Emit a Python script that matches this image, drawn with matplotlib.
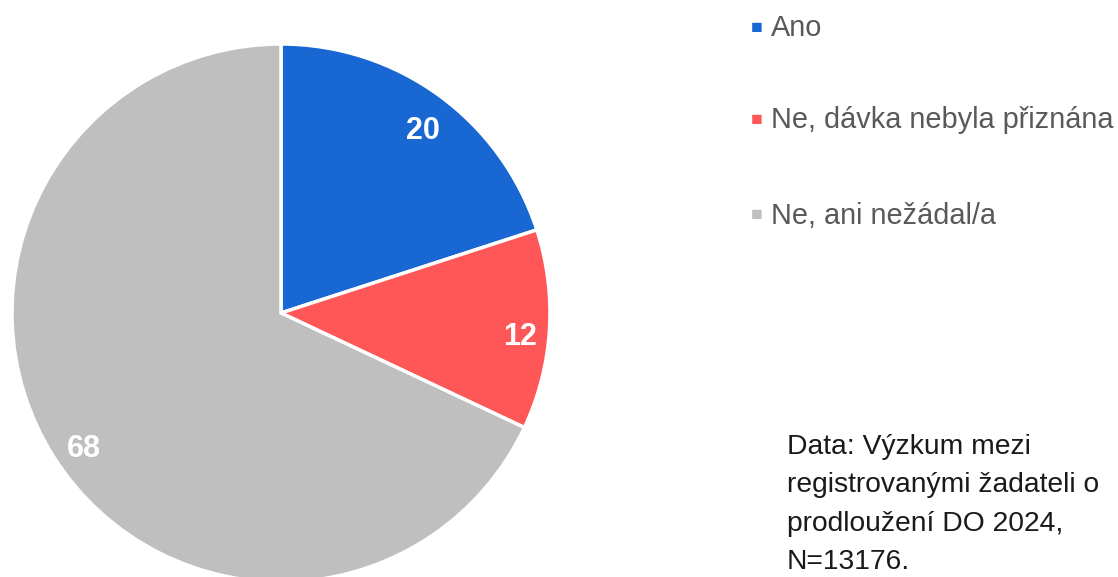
import matplotlib.pyplot as plt

categories = ["Ano", "Ne, dávka nebyla přiznána", "Ne, ani nežádal/a"]
values = [20, 12, 68]
colors = ["#1967D2", "#FF5757", "#BFBFBF"]
note = "Data: Výzkum mezi\nregistrovanými žadateli o\nprodloužení DO 2024,\nN=13176."

plt.rcParams["font.family"] = ["Liberation Sans", "DejaVu Sans"]

W, H = 1118, 577
fig = plt.figure(figsize=(W / 100, H / 100), dpi=100)

# pie centre ~ (281, 313) px, radius ~ 269 px
cx, cy, r = 281, 313, 269
ax = fig.add_axes([(cx - r) / W, (H - cy - r) / H, 2 * r / W, 2 * r / H])
wedges, texts, autotexts = ax.pie(
    values, colors=colors, startangle=90, counterclock=False,
    autopct=lambda p: "%d" % round(p), pctdistance=0.88, radius=1,
    wedgeprops=dict(edgecolor="white", linewidth=2.5),
)
for t in autotexts:
    t.set_color("white")
    t.set_fontsize(22)
    t.set_fontweight("bold")
    x, y = t.get_position()
    t.set_position((x + 0.01, y - 0.035))  # digits sit a bit lower in the original
ax.set_xlim(-1, 1)
ax.set_ylim(-1, 1)
ax.set_aspect("equal")
ax.axis("off")

# legend rows
rows_y = [28, 120, 216]
for name, col, y in zip(categories, colors, rows_y):
    fig.text(757 / W, 1 - y / H, "\u25A0", color=col, fontsize=14,
             ha="center", va="center")
    fig.text(771 / W, 1 - y / H, name, color="#595959", fontsize=20.8,
             ha="left", va="center")

fig.text(787 / W, 1 - 434 / H, note, color="#1a1a1a", fontsize=20.3,
         ha="left", va="top", linespacing=1.62)

fig.savefig("out.png", dpi=100)
